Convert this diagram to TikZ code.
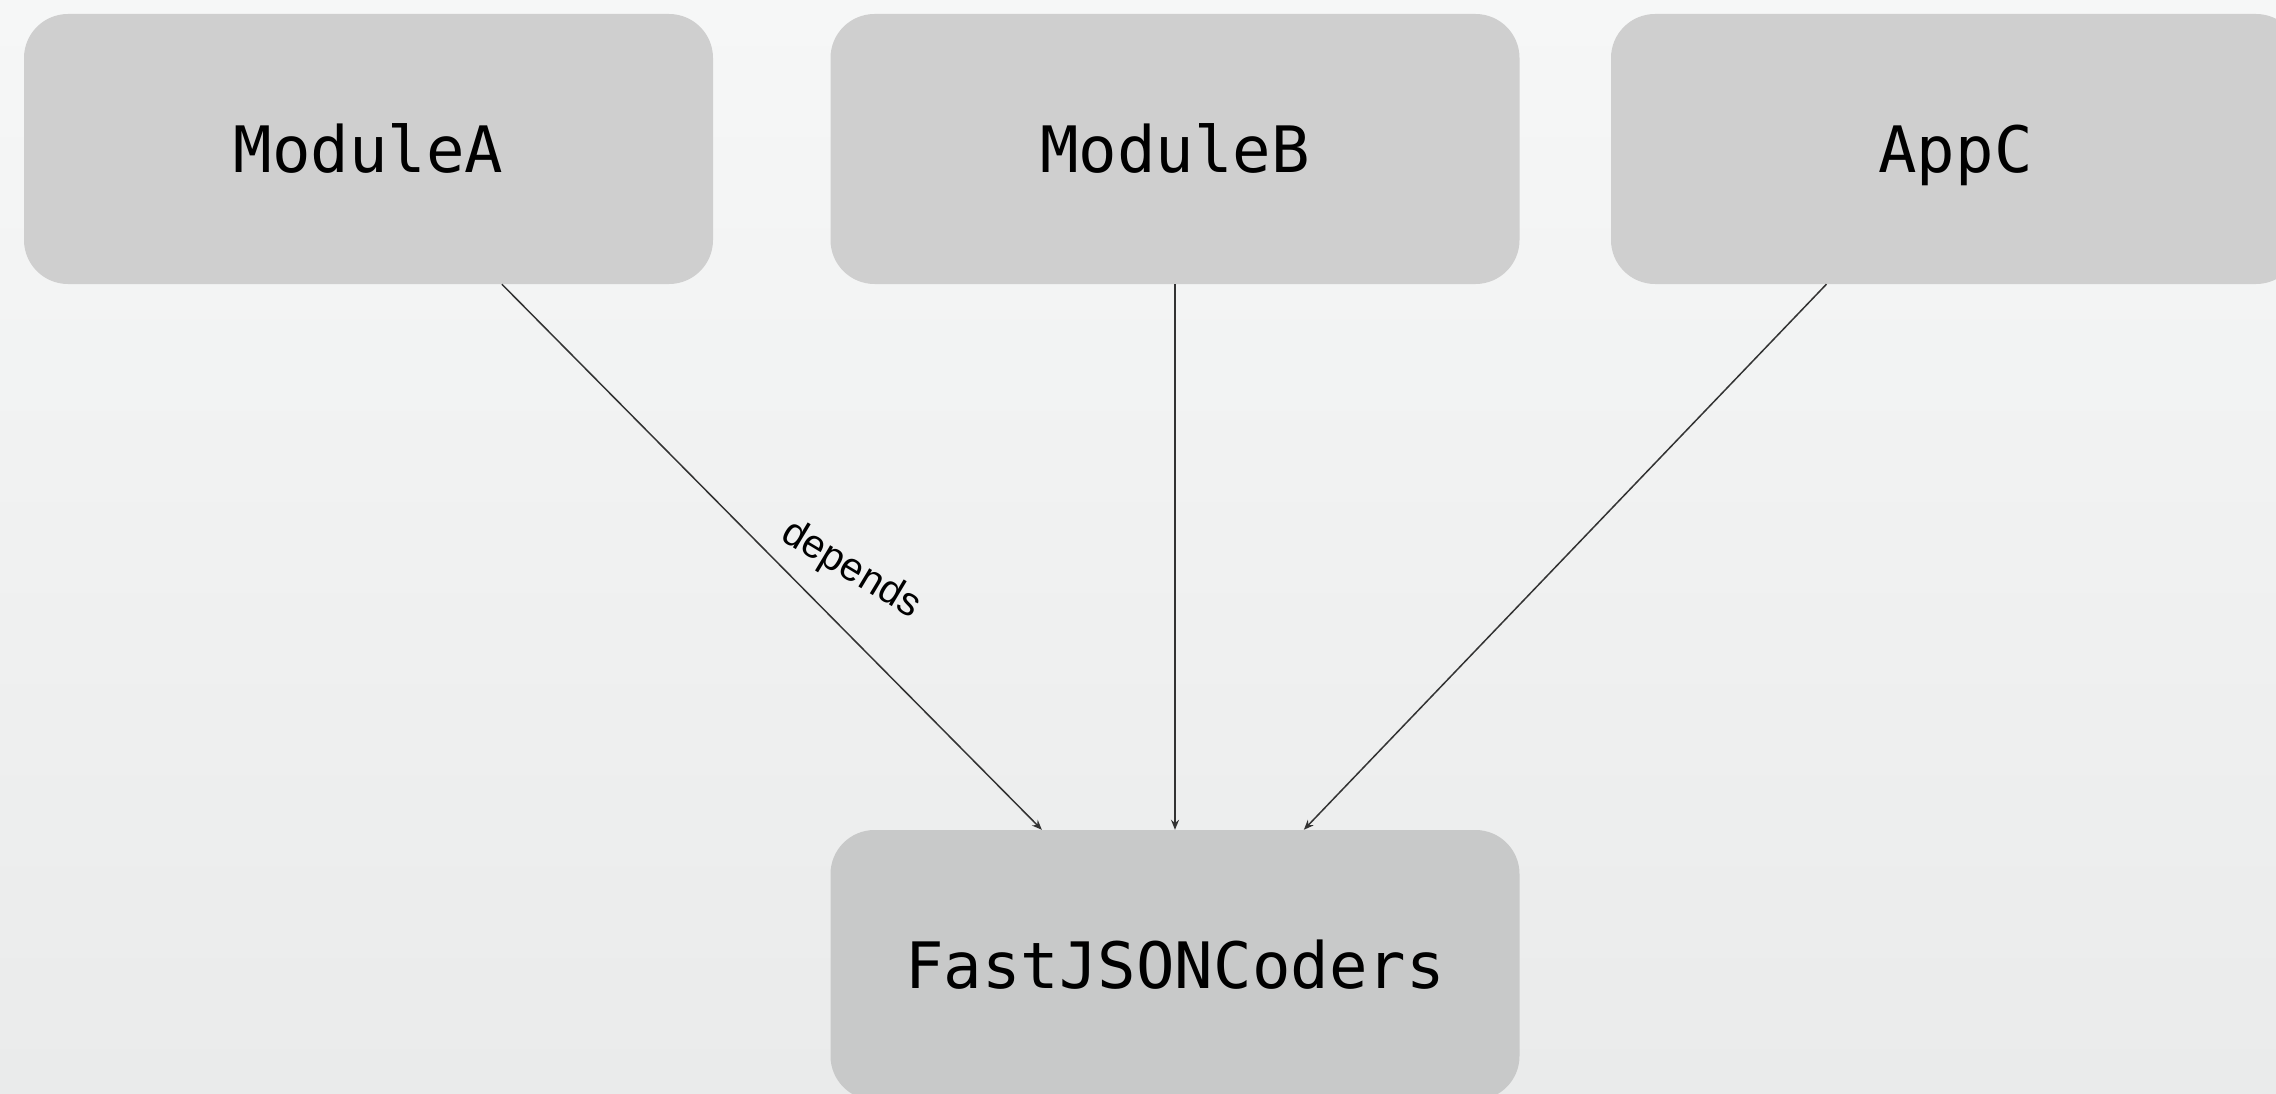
\documentclass[tikz,border=0pt]{standalone}
\usepackage{fontspec}
\setmainfont{Liberation Sans}
\setmonofont{DejaVu Sans Mono}
\usetikzlibrary{arrows.meta}
\definecolor{bgtop}{HTML}{F6F7F7}
\definecolor{bgbot}{HTML}{EAEBEB}
\definecolor{boxfill}{HTML}{CFCFCF}
\definecolor{boxfill2}{HTML}{C8C9C9}
\definecolor{edgec}{HTML}{333333}
\tikzset{
  modbox/.style={rectangle, rounded corners=44pt, minimum width=689pt, minimum height=270pt,
    inner sep=0pt, fill=boxfill, font=\ttfamily\fontsize{64}{70}\selectfont,
    text height=46.7pt, text depth=0pt},
  libbox/.style={modbox, fill=boxfill2},
  dep/.style={draw=edgec, line width=1.5pt, -{Stealth[length=10pt,width=8pt]}},
  deplabel/.style={font=\fontsize{40}{42}\selectfont, inner sep=0pt}
}
\begin{document}
\begin{tikzpicture}[x=1pt,y=-1pt]
\useasboundingbox (0,0) rectangle (2276,1094);
\shade[top color=bgtop, bottom color=bgbot] (0,0) rectangle (2276,1094);
\node[modbox] (A) at (368.5,149) {ModuleA};
\node[modbox] (B) at (1175,149) {ModuleB};
\node[modbox] (C) at (1955.5,149) {AppC};
\node[libbox] (F) at (1175,965) {FastJSONCoders};
\draw[dep] (A) -- node[deplabel, pos=0.524, xshift=66pt, rotate=-31] (lbl) {depends} (F);
\draw[dep] (B) -- (F);
\draw[dep] (C) -- (F);
\end{tikzpicture}
\end{document}
